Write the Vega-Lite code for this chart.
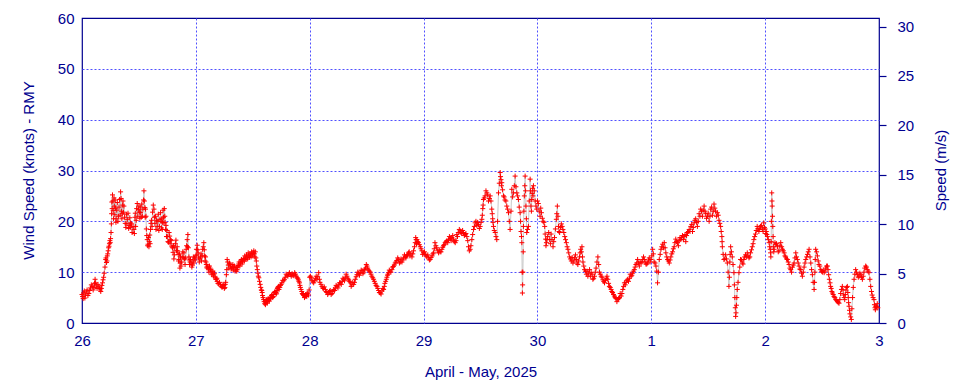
{
"$schema": "https://vega.github.io/schema/vega-lite/v6.json",
"width": 797, "height": 305,
"autosize": "none",
"padding": {"left": 82, "top": 18, "right": 81, "bottom": 61},
"background": "white",
"config": {"view": {"stroke": "#000090", "strokeWidth": 1.2}, "font": "Liberation Sans"},
"layer": [
{
"data": {"values": [
{"d":0.000,"v":5.6},{"d":0.010,"v":4.8},{"d":0.020,"v":6.3},{"d":0.030,"v":5.5},{"d":0.045,"v":6.5},{"d":0.060,"v":5.8},{"d":0.075,"v":6.9},{"d":0.090,"v":7.2},{"d":0.105,"v":7.0},{"d":0.115,"v":8.6},{"d":0.125,"v":7.3},{"d":0.140,"v":7.6},{"d":0.155,"v":6.9},{"d":0.165,"v":6.2},{"d":0.175,"v":7.4},{"d":0.185,"v":8.5},{"d":0.195,"v":9.8},{"d":0.208,"v":12.5},{"d":0.215,"v":11.9},{"d":0.222,"v":13.2},{"d":0.230,"v":14.2},{"d":0.237,"v":15.1},{"d":0.245,"v":16.2},{"d":0.251,"v":16.6},{"d":0.258,"v":19.5},{"d":0.262,"v":23.8},{"d":0.268,"v":25.2},{"d":0.274,"v":22.1},{"d":0.281,"v":24.6},{"d":0.288,"v":21.3},{"d":0.295,"v":22.6},{"d":0.300,"v":20.5},{"d":0.310,"v":23.7},{"d":0.320,"v":21.0},{"d":0.330,"v":24.3},{"d":0.339,"v":25.8},{"d":0.346,"v":22.0},{"d":0.354,"v":21.5},{"d":0.360,"v":24.0},{"d":0.368,"v":23.0},{"d":0.380,"v":19.6},{"d":0.390,"v":21.4},{"d":0.398,"v":20.4},{"d":0.410,"v":18.6},{"d":0.420,"v":20.7},{"d":0.427,"v":19.7},{"d":0.440,"v":17.8},{"d":0.456,"v":18.4},{"d":0.465,"v":20.8},{"d":0.471,"v":19.0},{"d":0.480,"v":22.5},{"d":0.490,"v":21.0},{"d":0.500,"v":23.0},{"d":0.508,"v":20.6},{"d":0.515,"v":21.7},{"d":0.525,"v":23.4},{"d":0.535,"v":22.4},{"d":0.544,"v":26.0},{"d":0.552,"v":22.7},{"d":0.558,"v":22.4},{"d":0.565,"v":18.5},{"d":0.573,"v":16.4},{"d":0.580,"v":15.5},{"d":0.588,"v":15.0},{"d":0.595,"v":17.3},{"d":0.602,"v":18.4},{"d":0.610,"v":20.2},{"d":0.620,"v":21.8},{"d":0.632,"v":22.4},{"d":0.640,"v":19.6},{"d":0.650,"v":18.4},{"d":0.661,"v":19.0},{"d":0.670,"v":21.4},{"d":0.680,"v":19.0},{"d":0.690,"v":21.7},{"d":0.698,"v":18.7},{"d":0.705,"v":18.4},{"d":0.712,"v":22.2},{"d":0.719,"v":19.7},{"d":0.727,"v":21.0},{"d":0.734,"v":18.4},{"d":0.742,"v":17.0},{"d":0.749,"v":17.0},{"d":0.760,"v":15.9},{"d":0.770,"v":17.1},{"d":0.778,"v":16.4},{"d":0.790,"v":15.0},{"d":0.800,"v":13.9},{"d":0.807,"v":12.6},{"d":0.815,"v":14.8},{"d":0.825,"v":16.3},{"d":0.836,"v":15.0},{"d":0.845,"v":13.5},{"d":0.851,"v":12.5},{"d":0.860,"v":10.8},{"d":0.865,"v":13.0},{"d":0.875,"v":12.0},{"d":0.885,"v":14.0},{"d":0.895,"v":13.8},{"d":0.905,"v":11.5},{"d":0.915,"v":14.5},{"d":0.924,"v":16.4},{"d":0.930,"v":17.4},{"d":0.939,"v":13.0},{"d":0.945,"v":11.5},{"d":0.953,"v":12.5},{"d":0.965,"v":11.0},{"d":0.975,"v":12.2},{"d":0.982,"v":11.8},{"d":0.995,"v":12.4},{"d":1.005,"v":14.5},{"d":1.012,"v":15.3},{"d":1.020,"v":13.8},{"d":1.030,"v":12.0},{"d":1.041,"v":13.0},{"d":1.050,"v":12.2},{"d":1.060,"v":14.5},{"d":1.070,"v":15.8},{"d":1.077,"v":13.2},{"d":1.085,"v":13.0},{"d":1.092,"v":11.5},{"d":1.099,"v":10.8},{"d":1.110,"v":10.6},{"d":1.120,"v":11.2},{"d":1.129,"v":10.5},{"d":1.140,"v":9.5},{"d":1.150,"v":10.2},{"d":1.158,"v":9.6},{"d":1.170,"v":9.0},{"d":1.180,"v":8.6},{"d":1.187,"v":8.2},{"d":1.200,"v":7.7},{"d":1.216,"v":7.5},{"d":1.230,"v":7.0},{"d":1.246,"v":7.4},{"d":1.255,"v":7.0},{"d":1.262,"v":8.0},{"d":1.268,"v":9.5},{"d":1.275,"v":12.5},{"d":1.285,"v":11.4},{"d":1.295,"v":11.8},{"d":1.304,"v":11.2},{"d":1.315,"v":10.8},{"d":1.325,"v":11.5},{"d":1.333,"v":11.0},{"d":1.345,"v":10.2},{"d":1.355,"v":10.9},{"d":1.363,"v":10.5},{"d":1.372,"v":11.3},{"d":1.380,"v":12.0},{"d":1.392,"v":11.8},{"d":1.400,"v":12.5},{"d":1.410,"v":12.0},{"d":1.421,"v":12.7},{"d":1.430,"v":13.2},{"d":1.440,"v":12.5},{"d":1.450,"v":13.0},{"d":1.460,"v":13.8},{"d":1.470,"v":12.9},{"d":1.480,"v":13.4},{"d":1.490,"v":14.0},{"d":1.500,"v":13.2},{"d":1.509,"v":14.2},{"d":1.518,"v":13.0},{"d":1.527,"v":12.8},{"d":1.535,"v":11.2},{"d":1.545,"v":9.8},{"d":1.553,"v":8.9},{"d":1.565,"v":7.6},{"d":1.575,"v":6.5},{"d":1.582,"v":6.0},{"d":1.590,"v":5.0},{"d":1.600,"v":4.2},{"d":1.611,"v":3.6},{"d":1.618,"v":4.4},{"d":1.626,"v":3.9},{"d":1.635,"v":4.8},{"d":1.645,"v":4.3},{"d":1.655,"v":4.8},{"d":1.665,"v":5.4},{"d":1.675,"v":5.0},{"d":1.684,"v":5.6},{"d":1.695,"v":6.2},{"d":1.705,"v":5.7},{"d":1.713,"v":6.4},{"d":1.720,"v":7.0},{"d":1.730,"v":6.6},{"d":1.743,"v":7.4},{"d":1.755,"v":7.9},{"d":1.772,"v":8.3},{"d":1.785,"v":9.0},{"d":1.801,"v":9.4},{"d":1.815,"v":9.6},{"d":1.830,"v":9.5},{"d":1.845,"v":9.7},{"d":1.860,"v":9.3},{"d":1.875,"v":9.6},{"d":1.889,"v":8.9},{"d":1.900,"v":8.5},{"d":1.910,"v":7.9},{"d":1.918,"v":7.0},{"d":1.930,"v":6.2},{"d":1.940,"v":5.6},{"d":1.947,"v":5.4},{"d":1.960,"v":5.2},{"d":1.970,"v":5.5},{"d":1.977,"v":5.8},{"d":1.990,"v":5.5},{"d":2.000,"v":9.0},
{"d":2.006,"v":9.2},{"d":2.020,"v":8.4},{"d":2.035,"v":7.9},{"d":2.050,"v":8.8},{"d":2.064,"v":8.6},{"d":2.079,"v":9.9},{"d":2.090,"v":8.0},{"d":2.108,"v":7.2},{"d":2.120,"v":6.8},{"d":2.137,"v":6.6},{"d":2.150,"v":6.0},{"d":2.167,"v":5.9},{"d":2.180,"v":6.4},{"d":2.196,"v":5.8},{"d":2.211,"v":6.6},{"d":2.225,"v":6.9},{"d":2.240,"v":7.2},{"d":2.255,"v":7.5},{"d":2.269,"v":7.9},{"d":2.285,"v":8.2},{"d":2.298,"v":8.6},{"d":2.312,"v":8.9},{"d":2.327,"v":9.2},{"d":2.342,"v":8.5},{"d":2.357,"v":7.9},{"d":2.370,"v":7.5},{"d":2.386,"v":7.6},{"d":2.400,"v":8.6},{"d":2.415,"v":9.5},{"d":2.430,"v":9.8},{"d":2.444,"v":9.9},{"d":2.460,"v":10.3},{"d":2.474,"v":10.0},{"d":2.490,"v":10.8},{"d":2.503,"v":11.2},{"d":2.515,"v":10.4},{"d":2.532,"v":10.0},{"d":2.545,"v":9.2},{"d":2.561,"v":8.6},{"d":2.575,"v":7.8},{"d":2.591,"v":7.2},{"d":2.605,"v":6.4},{"d":2.620,"v":5.9},{"d":2.635,"v":6.3},{"d":2.649,"v":6.6},{"d":2.660,"v":7.8},{"d":2.673,"v":8.6},{"d":2.683,"v":9.4},{"d":2.693,"v":9.9},{"d":2.705,"v":10.2},{"d":2.722,"v":10.5},{"d":2.735,"v":11.1},{"d":2.751,"v":11.8},{"d":2.765,"v":12.3},{"d":2.781,"v":12.5},{"d":2.795,"v":12.0},{"d":2.810,"v":12.0},{"d":2.825,"v":12.8},{"d":2.839,"v":13.0},{"d":2.850,"v":13.2},{"d":2.868,"v":13.8},{"d":2.880,"v":13.2},{"d":2.898,"v":13.0},{"d":2.912,"v":14.2},{"d":2.927,"v":15.8},{"d":2.935,"v":16.4},{"d":2.942,"v":16.4},{"d":2.955,"v":15.8},{"d":2.971,"v":15.0},{"d":2.985,"v":14.2},{"d":3.000,"v":13.8},{"d":3.015,"v":13.5},{"d":3.029,"v":13.0},{"d":3.045,"v":12.8},{"d":3.058,"v":12.5},{"d":3.075,"v":13.2},{"d":3.088,"v":13.8},{"d":3.100,"v":15.8},{"d":3.115,"v":14.8},{"d":3.132,"v":13.8},{"d":3.145,"v":14.0},{"d":3.161,"v":14.5},{"d":3.175,"v":15.2},{"d":3.190,"v":15.8},{"d":3.205,"v":16.2},{"d":3.219,"v":16.4},{"d":3.235,"v":16.6},{"d":3.249,"v":16.8},{"d":3.262,"v":16.5},{"d":3.278,"v":15.8},{"d":3.292,"v":17.4},{"d":3.305,"v":17.8},{"d":3.322,"v":18.1},{"d":3.335,"v":17.6},{"d":3.351,"v":17.8},{"d":3.365,"v":17.4},{"d":3.380,"v":17.0},{"d":3.395,"v":15.0},{"d":3.409,"v":14.5},{"d":3.424,"v":16.4},{"d":3.439,"v":18.4},{"d":3.453,"v":19.7},{"d":3.468,"v":19.2},{"d":3.482,"v":19.4},{"d":3.497,"v":19.0},{"d":3.512,"v":20.4},{"d":3.520,"v":22.5},{"d":3.526,"v":24.3},{"d":3.540,"v":25.0},{"d":3.556,"v":25.6},{"d":3.570,"v":24.0},{"d":3.585,"v":25.0},{"d":3.599,"v":22.4},{"d":3.607,"v":20.5},{"d":3.614,"v":19.0},{"d":3.629,"v":17.8},{"d":3.643,"v":16.4},{"d":3.658,"v":25.6},{"d":3.673,"v":29.6},{"d":3.680,"v":28.2},{"d":3.687,"v":27.6},{"d":3.702,"v":25.0},{"d":3.715,"v":24.2},{"d":3.731,"v":23.0},{"d":3.746,"v":21.7},{"d":3.760,"v":18.4},{"d":3.775,"v":26.3},{"d":3.789,"v":25.6},{"d":3.804,"v":28.9},{"d":3.819,"v":25.6},{"d":3.833,"v":24.3},{"d":3.848,"v":21.7},{"d":3.856,"v":18.0},{"d":3.863,"v":15.8},{"d":3.868,"v":5.9},{"d":3.872,"v":10.0},{"d":3.877,"v":19.0},{"d":3.885,"v":25.0},{"d":3.892,"v":28.9},{"d":3.899,"v":23.0},{"d":3.906,"v":17.8},{"d":3.921,"v":19.0},{"d":3.936,"v":28.3},{"d":3.943,"v":23.0},{"d":3.950,"v":24.3},{"d":3.958,"v":26.5},{"d":3.965,"v":27.0},{"d":3.980,"v":24.0},{"d":3.994,"v":22.4},{"d":4.008,"v":23.5},{"d":4.023,"v":21.0},
{"d":4.035,"v":21.7},{"d":4.050,"v":20.0},{"d":4.064,"v":19.0},{"d":4.072,"v":16.5},{"d":4.079,"v":15.8},{"d":4.090,"v":17.0},{"d":4.108,"v":16.4},{"d":4.120,"v":17.5},{"d":4.137,"v":15.0},{"d":4.150,"v":16.8},{"d":4.166,"v":20.4},{"d":4.175,"v":23.0},{"d":4.185,"v":19.0},{"d":4.195,"v":17.8},{"d":4.210,"v":19.5},{"d":4.224,"v":18.4},{"d":4.240,"v":17.0},{"d":4.254,"v":15.8},{"d":4.268,"v":14.5},{"d":4.283,"v":13.0},{"d":4.298,"v":12.2},{"d":4.312,"v":11.8},{"d":4.327,"v":12.8},{"d":4.341,"v":12.5},{"d":4.355,"v":11.5},{"d":4.370,"v":13.0},{"d":4.380,"v":14.5},{"d":4.391,"v":15.0},{"d":4.400,"v":12.0},{"d":4.414,"v":10.5},{"d":4.430,"v":9.6},{"d":4.443,"v":9.2},{"d":4.458,"v":10.5},{"d":4.472,"v":9.9},{"d":4.487,"v":8.6},{"d":4.501,"v":9.2},{"d":4.515,"v":10.8},{"d":4.531,"v":13.0},{"d":4.545,"v":10.0},{"d":4.560,"v":9.2},{"d":4.575,"v":8.5},{"d":4.589,"v":7.9},{"d":4.605,"v":8.8},{"d":4.618,"v":8.6},{"d":4.632,"v":7.2},{"d":4.647,"v":6.6},{"d":4.660,"v":6.0},{"d":4.676,"v":5.3},{"d":4.690,"v":4.8},{"d":4.706,"v":4.6},{"d":4.720,"v":5.0},{"d":4.735,"v":5.3},{"d":4.750,"v":6.6},{"d":4.764,"v":7.9},{"d":4.778,"v":8.0},{"d":4.793,"v":8.6},{"d":4.808,"v":8.8},{"d":4.822,"v":9.2},{"d":4.836,"v":9.8},{"d":4.851,"v":10.5},{"d":4.865,"v":11.5},{"d":4.880,"v":12.5},{"d":4.895,"v":11.2},{"d":4.910,"v":11.8},{"d":4.925,"v":12.5},{"d":4.939,"v":12.5},{"d":4.953,"v":11.6},{"d":4.968,"v":11.8},{"d":4.982,"v":12.8},{"d":4.997,"v":12.5},{"d":5.012,"v":14.5},{"d":5.025,"v":12.0},{"d":5.041,"v":11.2},{"d":5.055,"v":7.9},{"d":5.070,"v":12.5},{"d":5.085,"v":14.5},{"d":5.100,"v":15.5},{"d":5.114,"v":15.8},{"d":5.128,"v":13.8},{"d":5.143,"v":12.5},{"d":5.158,"v":11.8},{"d":5.172,"v":13.0},{"d":5.187,"v":14.0},{"d":5.201,"v":15.0},{"d":5.215,"v":16.5},{"d":5.230,"v":15.8},{"d":5.245,"v":16.2},{"d":5.259,"v":16.4},{"d":5.274,"v":17.2},{"d":5.289,"v":17.0},{"d":5.303,"v":16.0},{"d":5.318,"v":17.8},{"d":5.333,"v":18.4},{"d":5.347,"v":19.0},{"d":5.362,"v":18.0},{"d":5.376,"v":19.7},{"d":5.390,"v":20.5},{"d":5.405,"v":19.0},{"d":5.420,"v":21.5},{"d":5.434,"v":22.4},{"d":5.449,"v":21.0},{"d":5.464,"v":23.0},{"d":5.478,"v":21.5},{"d":5.493,"v":21.0},{"d":5.508,"v":20.0},{"d":5.522,"v":22.4},{"d":5.537,"v":21.2},{"d":5.551,"v":23.4},{"d":5.565,"v":22.0},{"d":5.580,"v":21.7},{"d":5.595,"v":20.2},{"d":5.609,"v":19.0},{"d":5.620,"v":17.0},{"d":5.624,"v":15.0},{"d":5.638,"v":12.5},{"d":5.653,"v":13.4},{"d":5.668,"v":11.8},{"d":5.682,"v":7.2},{"d":5.690,"v":12.0},{"d":5.697,"v":15.0},{"d":5.711,"v":13.0},{"d":5.726,"v":9.9},{"d":5.734,"v":5.0},{"d":5.741,"v":1.3},{"d":5.748,"v":3.5},{"d":5.755,"v":6.6},{"d":5.770,"v":9.9},{"d":5.784,"v":12.5},{"d":5.800,"v":11.8},{"d":5.813,"v":12.5},{"d":5.828,"v":13.4},{"d":5.843,"v":13.8},{"d":5.858,"v":12.8},{"d":5.872,"v":13.8},{"d":5.887,"v":15.0},{"d":5.901,"v":16.4},{"d":5.915,"v":17.5},{"d":5.930,"v":19.0},{"d":5.945,"v":18.0},{"d":5.959,"v":19.0},{"d":5.975,"v":18.5},{"d":5.988,"v":19.7},{"d":6.000,"v":18.5},
{"d":6.010,"v":18.0},{"d":6.020,"v":17.0},{"d":6.035,"v":15.8},{"d":6.045,"v":14.5},{"d":6.050,"v":13.0},{"d":6.055,"v":20.0},{"d":6.058,"v":25.6},{"d":6.062,"v":23.0},{"d":6.067,"v":19.0},{"d":6.072,"v":15.0},{"d":6.079,"v":14.5},{"d":6.093,"v":15.5},{"d":6.108,"v":15.0},{"d":6.122,"v":14.2},{"d":6.137,"v":15.8},{"d":6.152,"v":14.5},{"d":6.167,"v":13.8},{"d":6.180,"v":13.0},{"d":6.196,"v":12.5},{"d":6.210,"v":11.5},{"d":6.225,"v":10.5},{"d":6.240,"v":11.0},{"d":6.254,"v":11.8},{"d":6.269,"v":13.8},{"d":6.283,"v":12.5},{"d":6.298,"v":11.2},{"d":6.312,"v":10.5},{"d":6.327,"v":9.2},{"d":6.342,"v":11.0},{"d":6.357,"v":12.5},{"d":6.372,"v":13.5},{"d":6.386,"v":14.5},{"d":6.401,"v":11.8},{"d":6.415,"v":9.5},{"d":6.430,"v":6.6},{"d":6.437,"v":10.0},{"d":6.444,"v":14.5},{"d":6.459,"v":13.2},{"d":6.473,"v":11.5},{"d":6.488,"v":10.5},{"d":6.503,"v":10.0},{"d":6.518,"v":9.9},{"d":6.532,"v":10.8},{"d":6.547,"v":11.2},{"d":6.558,"v":9.5},{"d":6.570,"v":7.9},{"d":6.580,"v":6.8},{"d":6.591,"v":5.9},{"d":6.605,"v":5.2},{"d":6.620,"v":4.6},{"d":6.635,"v":4.2},{"d":6.649,"v":3.9},{"d":6.663,"v":5.8},{"d":6.678,"v":7.2},{"d":6.690,"v":5.5},{"d":6.699,"v":4.6},{"d":6.710,"v":6.5},{"d":6.722,"v":7.2},{"d":6.730,"v":5.0},{"d":6.737,"v":3.3},{"d":6.745,"v":1.8},{"d":6.757,"v":0.7},{"d":6.768,"v":5.0},{"d":6.781,"v":8.6},{"d":6.795,"v":10.5},{"d":6.810,"v":9.5},{"d":6.825,"v":9.2},{"d":6.840,"v":9.5},{"d":6.854,"v":8.6},{"d":6.868,"v":10.0},{"d":6.883,"v":11.2},{"d":6.897,"v":10.5},{"d":6.912,"v":9.9},{"d":6.927,"v":7.2},{"d":6.940,"v":5.5},{"d":6.956,"v":4.6},{"d":6.965,"v":3.0},{"d":6.971,"v":3.3},{"d":6.985,"v":3.8},
{"d":0.005,"v":5.2},{"d":0.015,"v":5.9},{"d":0.025,"v":4.9},{"d":0.038,"v":6.1},{"d":0.052,"v":5.4},{"d":0.068,"v":6.4},{"d":0.082,"v":7.5},{"d":0.098,"v":6.5},{"d":0.110,"v":7.8},{"d":0.120,"v":7.9},{"d":0.132,"v":6.8},{"d":0.148,"v":7.1},{"d":0.160,"v":6.5},{"d":0.170,"v":6.8},{"d":0.180,"v":7.9},{"d":0.190,"v":9.0},{"d":0.202,"v":11.0},
{"d":0.211,"v":12.8},{"d":0.219,"v":12.2},{"d":0.226,"v":13.6},{"d":0.234,"v":14.8},{"d":0.241,"v":15.6},{"d":0.248,"v":15.8},{"d":0.255,"v":17.8},{"d":0.260,"v":21.5},{"d":0.265,"v":22.5},{"d":0.271,"v":24.0},{"d":0.277,"v":20.5},{"d":0.284,"v":23.0},{"d":0.291,"v":24.2},{"d":0.298,"v":19.8},{"d":0.305,"v":22.2},{"d":0.315,"v":20.0},{"d":0.325,"v":22.8},{"d":0.335,"v":21.2},{"d":0.343,"v":24.5},{"d":0.350,"v":20.5},{"d":0.357,"v":23.2},{"d":0.364,"v":21.8},{"d":0.374,"v":20.8},{"d":0.385,"v":18.8},{"d":0.394,"v":19.5},{"d":0.404,"v":21.6},{"d":0.415,"v":19.2},{"d":0.424,"v":18.8},{"d":0.434,"v":19.5},{"d":0.448,"v":19.0},{"d":0.460,"v":17.6},{"d":0.468,"v":21.6},{"d":0.476,"v":20.2},{"d":0.485,"v":23.5},{"d":0.495,"v":22.3},{"d":0.504,"v":21.8},{"d":0.512,"v":22.8},{"d":0.520,"v":20.8},{"d":0.530,"v":21.0},{"d":0.540,"v":24.2},{"d":0.548,"v":24.0},{"d":0.555,"v":20.8},{"d":0.562,"v":21.0},{"d":0.569,"v":17.2},{"d":0.577,"v":15.2},{"d":0.584,"v":16.8},{"d":0.592,"v":16.0},{"d":0.598,"v":15.6},{"d":0.606,"v":19.6},{"d":0.615,"v":19.0},{"d":0.626,"v":23.2},{"d":0.636,"v":20.8},{"d":0.645,"v":21.0},{"d":0.655,"v":20.2},{"d":0.666,"v":20.0},{"d":0.675,"v":18.2},{"d":0.685,"v":20.4},{"d":0.694,"v":20.0},{"d":0.701,"v":20.5},{"d":0.708,"v":19.8},{"d":0.716,"v":20.8},{"d":0.723,"v":22.5},{"d":0.730,"v":19.8},{"d":0.738,"v":19.2},{"d":0.745,"v":18.2},{"d":0.755,"v":16.0},{"d":0.765,"v":17.8},{"d":0.774,"v":15.6},{"d":0.784,"v":16.2},{"d":0.795,"v":14.8},{"d":0.803,"v":15.2},{"d":0.811,"v":13.4},{"d":0.820,"v":15.6},{"d":0.830,"v":14.2},{"d":0.840,"v":14.2},{"d":0.848,"v":12.2},{"d":0.856,"v":13.6},{"d":0.862,"v":11.8},{"d":0.870,"v":11.2},{"d":0.880,"v":13.0},{"d":0.890,"v":12.8},{"d":0.900,"v":12.6},{"d":0.910,"v":12.8},{"d":0.919,"v":15.2},{"d":0.927,"v":15.0},{"d":0.934,"v":14.8},{"d":0.942,"v":12.4},{"d":0.949,"v":12.0},{"d":0.959,"v":11.8},{"d":0.970,"v":11.4},{"d":0.978,"v":13.0},{"d":0.988,"v":12.8},{"d":1.000,"v":13.2},{"d":1.008,"v":13.4},{"d":1.016,"v":14.4},{"d":1.025,"v":12.8},{"d":1.036,"v":12.6},{"d":1.046,"v":13.6},{"d":1.055,"v":13.2},{"d":1.065,"v":15.0},{"d":1.074,"v":14.4},{"d":1.081,"v":12.2},{"d":1.089,"v":12.0},{"d":1.096,"v":11.0},{"d":1.105,"v":11.2},{"d":1.115,"v":10.0},{"d":1.125,"v":10.8},{"d":1.135,"v":10.2},{"d":1.145,"v":9.8},{"d":1.154,"v":9.2},{"d":1.164,"v":9.8},{"d":1.175,"v":8.6},{"d":1.184,"v":8.8},{"d":1.194,"v":7.8},{"d":1.208,"v":8.0},{"d":1.223,"v":7.2},{"d":1.238,"v":7.6},{"d":1.250,"v":6.8},{"d":1.258,"v":7.6},{"d":1.272,"v":10.5},{"d":1.280,"v":12.0},{"d":1.290,"v":10.8},{"d":1.300,"v":11.6},{"d":1.310,"v":10.6},{"d":1.320,"v":11.0},{"d":1.329,"v":10.4},{"d":1.339,"v":11.2},{"d":1.350,"v":10.6},{"d":1.359,"v":10.2},{"d":1.368,"v":11.0},{"d":1.376,"v":11.6},{"d":1.386,"v":11.2},{"d":1.396,"v":12.2},{"d":1.405,"v":11.6},{"d":1.416,"v":12.4},{"d":1.426,"v":12.2},{"d":1.435,"v":12.8},{"d":1.445,"v":13.4},{"d":1.455,"v":12.6},{"d":1.465,"v":13.2},{"d":1.475,"v":13.6},{"d":1.485,"v":13.0},{"d":1.495,"v":13.6},{"d":1.505,"v":13.8},{"d":1.514,"v":13.6},{"d":1.522,"v":14.0},{"d":1.531,"v":12.2},{"d":1.540,"v":10.5},{"d":1.549,"v":9.2},{"d":1.559,"v":8.2},{"d":1.570,"v":7.0},{"d":1.579,"v":6.4},{"d":1.586,"v":5.4},{"d":1.595,"v":4.6},{"d":1.605,"v":3.8},{"d":1.614,"v":4.0},{"d":1.622,"v":4.6},{"d":1.630,"v":4.2},{"d":1.640,"v":4.5},{"d":1.650,"v":5.0},{"d":1.660,"v":5.0},{"d":1.670,"v":5.6},{"d":1.680,"v":5.2},{"d":1.690,"v":6.0},{"d":1.700,"v":6.0},{"d":1.709,"v":5.9},{"d":1.716,"v":6.8},{"d":1.725,"v":7.2},{"d":1.737,"v":7.0},{"d":1.749,"v":7.6},{"d":1.763,"v":8.4},{"d":1.778,"v":8.6},{"d":1.793,"v":9.6},{"d":1.808,"v":9.2},{"d":1.822,"v":9.9},{"d":1.838,"v":9.2},{"d":1.852,"v":9.4},{"d":1.868,"v":9.9},{"d":1.882,"v":9.2},{"d":1.895,"v":8.8},{"d":1.905,"v":8.2},{"d":1.914,"v":7.4},{"d":1.924,"v":6.6},{"d":1.935,"v":5.8},{"d":1.944,"v":5.8},{"d":1.954,"v":5.0},{"d":1.965,"v":5.6},{"d":1.974,"v":5.2},{"d":1.984,"v":5.9},{"d":1.995,"v":6.5},
{"d":2.013,"v":8.9},{"d":2.028,"v":8.1},{"d":2.043,"v":8.3},{"d":2.057,"v":9.2},{"d":2.071,"v":9.1},{"d":2.085,"v":8.6},{"d":2.099,"v":7.6},{"d":2.114,"v":6.9},{"d":2.128,"v":7.1},{"d":2.143,"v":6.2},{"d":2.158,"v":5.6},{"d":2.174,"v":6.2},{"d":2.188,"v":5.6},{"d":2.204,"v":6.2},{"d":2.218,"v":6.4},{"d":2.232,"v":7.4},{"d":2.248,"v":6.9},{"d":2.262,"v":7.9},{"d":2.277,"v":7.6},{"d":2.292,"v":8.8},{"d":2.305,"v":8.3},{"d":2.320,"v":9.6},{"d":2.335,"v":8.8},{"d":2.350,"v":8.2},{"d":2.364,"v":7.2},{"d":2.378,"v":8.0},{"d":2.393,"v":8.0},{"d":2.408,"v":9.1},{"d":2.422,"v":10.0},{"d":2.437,"v":9.4},{"d":2.452,"v":10.4},{"d":2.467,"v":9.7},{"d":2.482,"v":10.5},{"d":2.497,"v":11.5},{"d":2.509,"v":10.8},{"d":2.524,"v":10.2},{"d":2.538,"v":9.6},{"d":2.553,"v":8.9},{"d":2.568,"v":8.2},{"d":2.583,"v":7.4},{"d":2.598,"v":6.8},{"d":2.612,"v":6.0},{"d":2.627,"v":5.7},{"d":2.642,"v":6.8},{"d":2.655,"v":7.2},{"d":2.667,"v":8.2},{"d":2.678,"v":9.0},{"d":2.688,"v":9.6},{"d":2.699,"v":10.4},{"d":2.713,"v":10.0},{"d":2.728,"v":11.0},{"d":2.743,"v":11.4},{"d":2.758,"v":12.0},{"d":2.773,"v":12.8},{"d":2.788,"v":11.8},{"d":2.802,"v":12.6},{"d":2.818,"v":12.4},{"d":2.832,"v":13.4},{"d":2.845,"v":12.8},{"d":2.859,"v":13.4},{"d":2.874,"v":14.0},{"d":2.889,"v":13.6},{"d":2.905,"v":13.6},{"d":2.920,"v":15.0},{"d":2.931,"v":16.8},{"d":2.938,"v":15.6},{"d":2.948,"v":16.0},{"d":2.963,"v":15.4},{"d":2.978,"v":14.6},{"d":2.992,"v":13.5},{"d":3.008,"v":14.0},{"d":3.022,"v":13.2},{"d":3.037,"v":13.4},{"d":3.051,"v":12.4},{"d":3.066,"v":12.9},{"d":3.082,"v":13.6},{"d":3.094,"v":14.6},{"d":3.108,"v":15.2},{"d":3.124,"v":14.2},{"d":3.138,"v":14.4},{"d":3.153,"v":14.0},{"d":3.168,"v":14.9},{"d":3.182,"v":15.4},{"d":3.198,"v":16.0},{"d":3.212,"v":15.8},{"d":3.227,"v":17.0},{"d":3.242,"v":16.2},{"d":3.256,"v":17.2},{"d":3.270,"v":16.0},{"d":3.285,"v":16.2},{"d":3.298,"v":17.0},{"d":3.314,"v":18.4},{"d":3.328,"v":17.8},{"d":3.343,"v":18.2},{"d":3.358,"v":17.2},{"d":3.372,"v":17.6},{"d":3.388,"v":16.2},{"d":3.402,"v":14.2},{"d":3.416,"v":15.2},{"d":3.431,"v":17.4},{"d":3.446,"v":19.0},{"d":3.460,"v":20.0},{"d":3.475,"v":19.8},{"d":3.490,"v":18.6},{"d":3.505,"v":19.8},{"d":3.516,"v":21.2},{"d":3.523,"v":23.2},{"d":3.533,"v":24.6},{"d":3.548,"v":26.0},{"d":3.563,"v":25.2},{"d":3.578,"v":24.5},{"d":3.592,"v":24.0},{"d":3.603,"v":21.5},{"d":3.610,"v":19.8},{"d":3.621,"v":18.2},{"d":3.636,"v":17.0},{"d":3.650,"v":20.0},{"d":3.665,"v":27.5},{"d":3.676,"v":28.8},{"d":3.684,"v":27.0},{"d":3.694,"v":26.2},{"d":3.708,"v":24.8},{"d":3.723,"v":24.0},{"d":3.738,"v":22.4},{"d":3.753,"v":20.0},{"d":3.768,"v":22.0},{"d":3.782,"v":24.8},{"d":3.797,"v":27.0},{"d":3.811,"v":26.8},{"d":3.826,"v":25.0},{"d":3.840,"v":22.8},{"d":3.852,"v":20.0},{"d":3.860,"v":17.0},{"d":3.866,"v":10.0},{"d":3.870,"v":7.5},{"d":3.875,"v":14.0},{"d":3.881,"v":22.0},{"d":3.889,"v":27.0},{"d":3.896,"v":26.0},{"d":3.903,"v":20.5},{"d":3.913,"v":18.4},{"d":3.928,"v":24.0},{"d":3.940,"v":26.0},{"d":3.947,"v":22.0},{"d":3.954,"v":25.5},{"d":3.961,"v":25.0},{"d":3.972,"v":26.0},{"d":3.987,"v":23.0},{"d":4.001,"v":24.0},{"d":4.015,"v":22.0},{"d":4.029,"v":22.6},
{"d":4.043,"v":20.6},{"d":4.057,"v":19.8},{"d":4.068,"v":17.5},{"d":4.075,"v":15.2},{"d":4.084,"v":16.4},{"d":4.099,"v":17.8},{"d":4.114,"v":15.6},{"d":4.128,"v":16.4},{"d":4.143,"v":16.0},{"d":4.158,"v":18.5},{"d":4.170,"v":21.5},{"d":4.180,"v":21.0},{"d":4.190,"v":18.0},{"d":4.202,"v":18.8},{"d":4.217,"v":19.0},{"d":4.232,"v":17.8},{"d":4.247,"v":16.4},{"d":4.261,"v":15.0},{"d":4.275,"v":13.8},{"d":4.290,"v":12.6},{"d":4.305,"v":12.9},{"d":4.320,"v":12.2},{"d":4.334,"v":13.4},{"d":4.348,"v":11.8},{"d":4.362,"v":12.2},{"d":4.375,"v":13.8},{"d":4.386,"v":14.0},{"d":4.396,"v":13.0},{"d":4.407,"v":11.2},{"d":4.422,"v":10.2},{"d":4.436,"v":10.2},{"d":4.450,"v":9.8},{"d":4.465,"v":9.2},{"d":4.480,"v":9.6},{"d":4.494,"v":8.8},{"d":4.508,"v":10.0},{"d":4.523,"v":12.0},{"d":4.538,"v":11.5},{"d":4.552,"v":9.6},{"d":4.567,"v":9.0},{"d":4.582,"v":8.2},{"d":4.597,"v":8.4},{"d":4.611,"v":9.2},{"d":4.625,"v":7.8},{"d":4.640,"v":7.0},{"d":4.653,"v":6.2},{"d":4.668,"v":5.6},{"d":4.683,"v":5.0},{"d":4.698,"v":4.2},{"d":4.713,"v":4.8},{"d":4.727,"v":5.8},{"d":4.742,"v":5.8},{"d":4.757,"v":7.2},{"d":4.771,"v":7.5},{"d":4.786,"v":8.4},{"d":4.800,"v":8.2},{"d":4.815,"v":9.6},{"d":4.829,"v":9.4},{"d":4.843,"v":10.2},{"d":4.858,"v":11.0},{"d":4.872,"v":11.8},{"d":4.888,"v":11.8},{"d":4.902,"v":12.0},{"d":4.918,"v":12.0},{"d":4.932,"v":13.0},{"d":4.946,"v":12.0},{"d":4.960,"v":11.6},{"d":4.975,"v":12.4},{"d":4.990,"v":12.0},{"d":5.005,"v":13.2},{"d":5.018,"v":13.6},{"d":5.033,"v":11.8},{"d":5.048,"v":10.2},{"d":5.062,"v":10.0},{"d":5.078,"v":13.5},{"d":5.092,"v":15.0},{"d":5.107,"v":14.8},{"d":5.121,"v":14.8},{"d":5.136,"v":13.0},{"d":5.150,"v":12.2},{"d":5.165,"v":12.4},{"d":5.180,"v":13.6},{"d":5.194,"v":14.6},{"d":5.208,"v":15.8},{"d":5.222,"v":16.0},{"d":5.238,"v":15.2},{"d":5.252,"v":16.8},{"d":5.266,"v":16.8},{"d":5.282,"v":16.4},{"d":5.296,"v":17.4},{"d":5.310,"v":17.2},{"d":5.326,"v":18.0},{"d":5.340,"v":18.0},{"d":5.355,"v":19.4},{"d":5.369,"v":18.8},{"d":5.383,"v":20.2},{"d":5.398,"v":19.8},{"d":5.412,"v":20.0},{"d":5.427,"v":21.0},{"d":5.441,"v":22.0},{"d":5.456,"v":22.2},{"d":5.471,"v":22.0},{"d":5.485,"v":20.6},{"d":5.500,"v":21.6},{"d":5.515,"v":21.0},{"d":5.530,"v":22.8},{"d":5.544,"v":22.0},{"d":5.558,"v":22.6},{"d":5.572,"v":21.0},{"d":5.588,"v":21.2},{"d":5.602,"v":19.6},{"d":5.614,"v":18.0},{"d":5.622,"v":16.0},{"d":5.631,"v":13.5},{"d":5.645,"v":12.6},{"d":5.660,"v":12.6},{"d":5.675,"v":10.0},{"d":5.686,"v":9.0},{"d":5.693,"v":13.5},{"d":5.704,"v":14.0},{"d":5.718,"v":11.5},{"d":5.730,"v":7.5},{"d":5.738,"v":3.0},{"d":5.744,"v":2.0},{"d":5.751,"v":5.0},{"d":5.762,"v":8.0},{"d":5.777,"v":11.0},{"d":5.792,"v":12.4},{"d":5.806,"v":11.6},{"d":5.820,"v":13.0},{"d":5.835,"v":13.0},{"d":5.850,"v":13.2},{"d":5.865,"v":13.0},{"d":5.880,"v":14.4},{"d":5.894,"v":15.6},{"d":5.908,"v":17.0},{"d":5.922,"v":18.2},{"d":5.938,"v":18.6},{"d":5.952,"v":18.4},{"d":5.967,"v":19.2},{"d":5.982,"v":18.0},{"d":5.994,"v":18.8},
{"d":6.005,"v":17.6},{"d":6.015,"v":17.4},{"d":6.028,"v":16.4},{"d":6.040,"v":15.0},{"d":6.048,"v":13.8},{"d":6.053,"v":16.0},{"d":6.060,"v":24.0},{"d":6.065,"v":21.0},{"d":6.070,"v":17.0},{"d":6.076,"v":14.0},{"d":6.086,"v":15.8},{"d":6.100,"v":15.6},{"d":6.115,"v":14.0},{"d":6.130,"v":15.2},{"d":6.145,"v":15.0},{"d":6.160,"v":14.2},{"d":6.174,"v":13.2},{"d":6.188,"v":12.6},{"d":6.203,"v":12.0},{"d":6.218,"v":10.8},{"d":6.232,"v":10.0},{"d":6.247,"v":11.4},{"d":6.262,"v":12.8},{"d":6.276,"v":13.0},{"d":6.290,"v":11.8},{"d":6.305,"v":10.6},{"d":6.320,"v":9.8},{"d":6.335,"v":10.0},{"d":6.350,"v":11.8},{"d":6.365,"v":13.0},{"d":6.379,"v":14.0},{"d":6.394,"v":13.0},{"d":6.408,"v":10.5},{"d":6.422,"v":8.0},{"d":6.434,"v":8.0},{"d":6.440,"v":12.5},{"d":6.452,"v":14.0},{"d":6.466,"v":12.2},{"d":6.480,"v":11.2},{"d":6.495,"v":10.2},{"d":6.510,"v":10.4},{"d":6.525,"v":10.2},{"d":6.540,"v":11.2},{"d":6.552,"v":10.5},{"d":6.564,"v":8.6},{"d":6.575,"v":7.2},{"d":6.586,"v":6.2},{"d":6.598,"v":5.6},{"d":6.612,"v":5.0},{"d":6.628,"v":4.4},{"d":6.642,"v":4.0},{"d":6.656,"v":4.6},{"d":6.670,"v":6.6},{"d":6.684,"v":6.5},{"d":6.694,"v":5.0},{"d":6.704,"v":5.6},{"d":6.716,"v":7.0},{"d":6.726,"v":6.0},{"d":6.733,"v":4.0},{"d":6.741,"v":2.5},{"d":6.751,"v":1.2},{"d":6.762,"v":2.8},{"d":6.774,"v":7.0},{"d":6.788,"v":9.6},{"d":6.802,"v":10.0},{"d":6.818,"v":9.0},{"d":6.832,"v":9.8},{"d":6.847,"v":9.0},{"d":6.861,"v":9.2},{"d":6.875,"v":10.8},{"d":6.890,"v":11.0},{"d":6.905,"v":10.2},{"d":6.920,"v":8.6},{"d":6.934,"v":6.2},{"d":6.948,"v":5.0},{"d":6.960,"v":3.6},{"d":6.968,"v":2.6},{"d":6.978,"v":3.2},{"d":6.990,"v":3.0}
]},
"encoding": {
"x": {"field": "d", "type": "quantitative", "scale": {"domain": [0, 7], "nice": false, "zero": false},
"axis": {"title": "April - May, 2025", "values": [0,1,2,3,4,5,6,7], "labelExpr": "['26','27','28','29','30','1','2','3'][datum.value]", "labelFlush": false, "labelOverlap": false, "ticks": false, "tickSize": 0, "domain": false, "labelPadding": 10, "labelColor": "#000090", "labelFont": "Liberation Sans", "labelFontSize": 15, "titleColor": "#000090", "titleFont": "Liberation Sans", "titleFontSize": 15, "titleFontWeight": "normal", "titleY": 48, "titleBaseline": "middle", "grid": true, "gridColor": "#5050ff", "gridDash": [2, 2], "gridWidth": 1, "gridOpacity": {"condition": {"test": "datum.value == 0 || datum.value == 7", "value": 0}, "value": 1}}},
"y": {"field": "v", "type": "quantitative", "scale": {"domain": [0, 60], "nice": false},
"axis": {"title": "Wind Speed (knots) - RMY", "orient": "left", "values": [0,10,20,30,40,50,60], "ticks": false, "tickSize": 0, "domain": false, "labelPadding": 8, "labelColor": "#000090", "labelFont": "Liberation Sans", "labelFontSize": 15, "titleColor": "#000090", "titleFont": "Liberation Sans", "titleFontSize": 15, "titleFontWeight": "normal", "titleX": -54, "titleY": 152, "titleBaseline": "middle", "grid": true, "gridColor": "#5050ff", "gridDash": [2, 2], "gridWidth": 1, "gridOpacity": {"condition": {"test": "datum.value == 0 || datum.value == 60", "value": 0}, "value": 1}}}
},
"layer": [
{"mark": {"type": "line", "color": "#c8c8c8", "strokeWidth": 1}},
{"mark": {"type": "point", "shape": "M-1,0H1M0,-1V1", "filled": false, "stroke": "#ff0000", "strokeWidth": 1, "size": 25, "opacity": 1}}
]
},
{
"data": {"values": [{"ms": 0}, {"ms": 30}]},
"mark": {"type": "point", "opacity": 0},
"encoding": {
"y": {"field": "ms", "type": "quantitative", "scale": {"domain": [0, 30.867], "nice": false},
"axis": {"title": "Speed (m/s)", "orient": "right", "values": [0,5,10,15,20,25,30], "grid": false, "ticks": true, "tickSize": 7, "tickColor": "#000090", "tickWidth": 1.2, "domain": false, "labelPadding": 11, "labelColor": "#000090", "labelFont": "Liberation Sans", "labelFontSize": 15, "titleColor": "#000090", "titleFont": "Liberation Sans", "titleFontSize": 15, "titleFontWeight": "normal", "titleX": 61, "titleY": 152, "titleAngle": -90, "titleBaseline": "middle"}}
}
}
],
"resolve": {"scale": {"y": "independent"}}
}
